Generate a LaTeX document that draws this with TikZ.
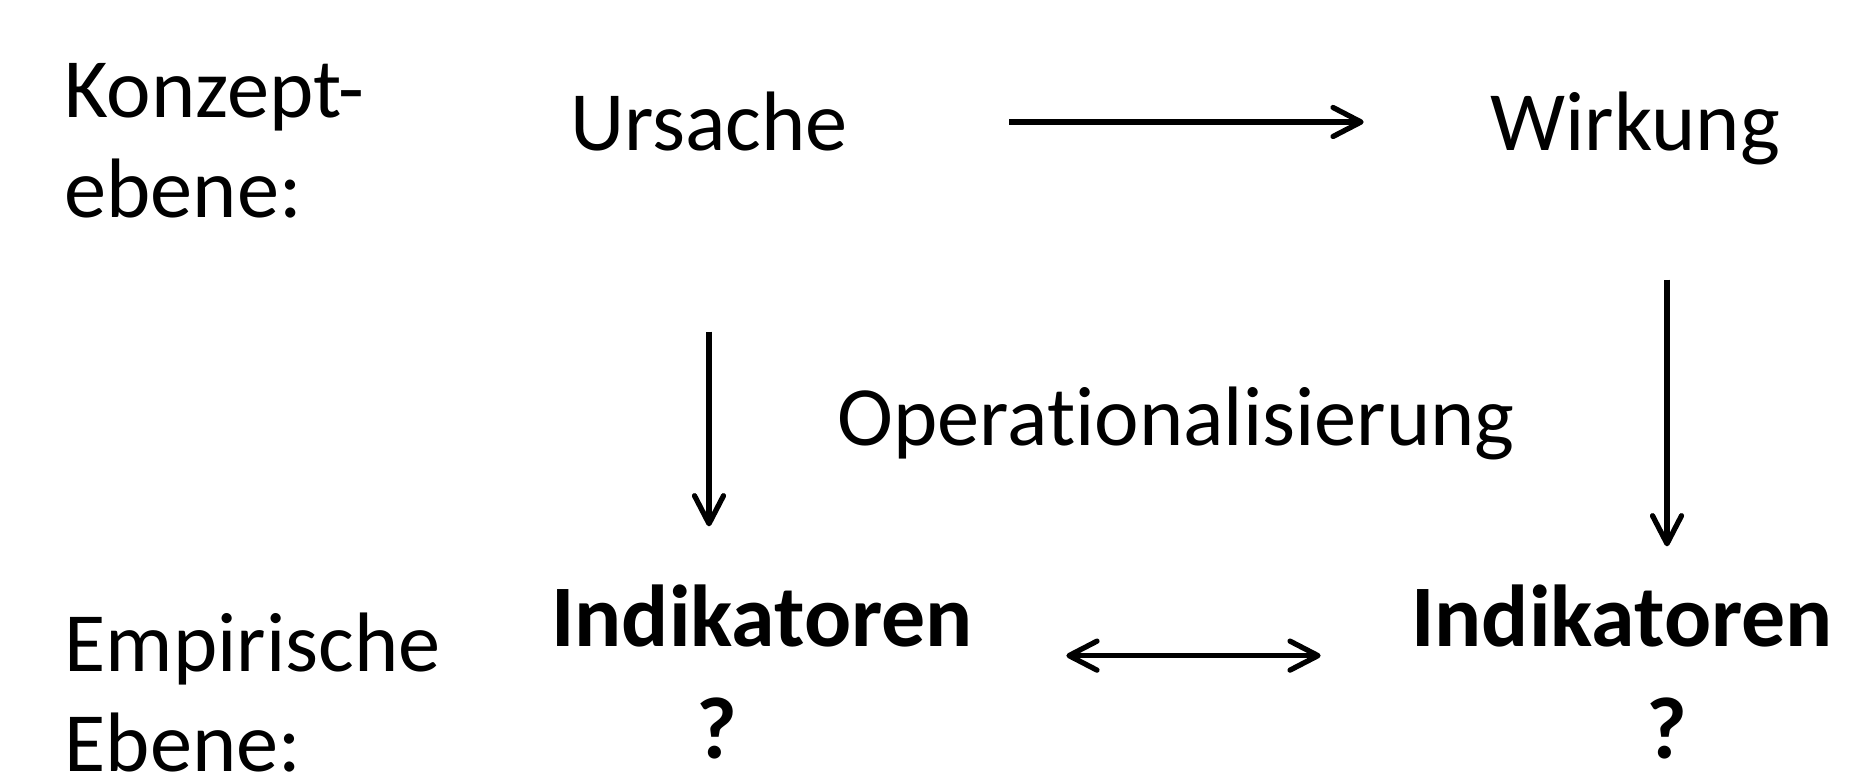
\documentclass[tikz,border=0pt]{standalone}
\usepackage{fontspec}
\setmainfont{Carlito}[Ligatures=NoCommon]
\usetikzlibrary{arrows.meta}

\begin{document}
\begin{tikzpicture}[->,>={Straight Barb[length=2.8mm,width=2.9mm,round]},line width=1.5pt,
  every node/.style={inner sep=0pt,font=\fontsize{24}{28.5}\selectfont}]
\tikzstyle{concept}=[text height=0.58cm,text depth=0pt]
\tikzstyle{indicator}=[text height=0.58cm,text depth=0pt,font=\fontsize{25}{28.5}\selectfont\bfseries]
\useasboundingbox (0,0) rectangle (18.51,7.74);

% Ebenen
\node[anchor=base west,align=left] (konzept) at (0.62,5.56) {Konzept-\\ebene:};
\node[anchor=base west,align=left] (empirie) at (0.62,0.02) {Empirische\\Ebene:};

\node[concept,anchor=base]   (ursache) at (7.09,6.23)  {Ursache};
\node[concept,anchor=base]   (wirkung) at (16.35,6.23) {Wirkung};
\node[anchor=base]           (op)      at (11.76,3.28) {Operationalisierung};
\node[indicator,anchor=base] (ind1)    at (7.62,1.27)  {Indikatoren};
\node[indicator,anchor=base] (ind2)    at (16.22,1.27) {Indikatoren};
\node[indicator,anchor=base] (q1)      at (7.17,0.15)  {?};
\node[indicator,anchor=base] (q2)      at (16.67,0.15) {?};

\path
(ursache)       edge [shorten <=1.59cm,shorten >=1.24cm] (wirkung)
(ursache.south) edge [shorten <=1.78cm,shorten >=0.60cm] (ursache.south |- ind1.north)
(wirkung.south -| q2) edge [shorten <=1.26cm,shorten >=0.40cm] (q2 |- ind2.north)
([yshift=-0.6mm]ind1.south east) edge [<->,shorten <=0.91cm,shorten >=0.88cm] ([yshift=-0.6mm]ind2.south west);
\end{tikzpicture}
\end{document}
